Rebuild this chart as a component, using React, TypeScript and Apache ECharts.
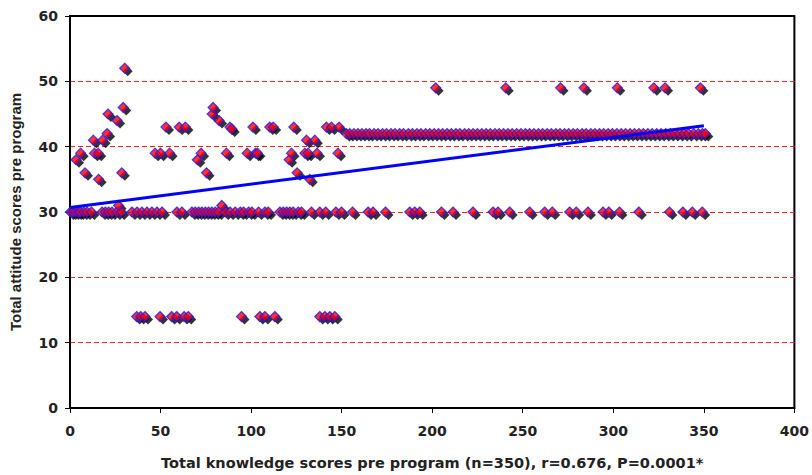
import React, { useEffect, useRef } from "react";
import * as echarts from "echarts";

// Scores
const row30X = [
  0.2, 1.5, 3, 4.5, 5.7, 7.6, 9.4, 11.8, 17.7, 19.5, 21.3, 23.2, 25.9, 28.3, 34.2, 37, 39.7, 42.5,
  45.2, 48, 50.8, 59, 61.8, 67.3, 69.1, 71, 72.8, 74.7, 76.5, 78.3, 80.2, 82, 85.7, 88.4, 91.2, 94,
  95.8, 98.6, 100.4, 104.1, 107.6, 109.4, 115.9, 117.7, 119.6, 121.4, 123.2, 126, 127.8, 133.3,
  137.9, 141.2, 146.8, 149.9, 156, 164.6, 167.3, 174.2, 187.6, 190.3, 193.1, 205.1, 211.5, 222.5,
  233.6, 236.3, 242.8, 253.8, 262.1, 266.3, 275.9, 279.5, 286, 294.3, 297.5, 303.4, 314.1, 331,
  338.4, 343.6, 349.1,
];
const row42X = [
  152.6, 154.5, 156.8, 159, 161.2, 163.5, 165.4, 167.9, 170.1, 172.6, 174.8, 177.3, 179.5, 182,
  184.2, 186.9, 189.1, 191.6, 193.8, 196.4, 198.7, 201.1, 203.5, 205.8, 208.3, 210.6, 213.1, 215.3,
  217.9, 220.2, 222.6, 225, 227.4, 229.8, 232.1, 234.7, 237, 239.4, 241.9, 244.2, 246.7, 249,
  251.5, 253.8, 256.2, 258.7, 261, 263.5, 265.8, 268.3, 270.6, 273.1, 275.4, 277.9, 280.2, 282.8,
  285, 287.6, 289.9, 292.4, 294.7, 297.2, 299.5, 302, 304.4, 306.8, 309.3, 311.7, 314.2, 316.6,
  319.1, 321.5, 324, 326.4, 329, 331.5, 334, 336.6, 339.1, 341.5, 344.4, 347, 349.2, 350.8,
];
const row49X = [201.9, 240.6, 270.9, 283.8, 302.2, 322.4, 328.6, 348.1];
const row14X = [
  36.8, 39, 41.4, 49.7, 56.1, 58.9, 63, 65.3, 94.7, 104.8, 107.6, 113.1, 137.9, 140.7, 143.4, 146.2,
];
const otherPoints: [number, number][] = [
  [3.3, 38], [5.9, 39], [8.3, 36], [12.9, 41], [13.5, 39], [15.6, 39], [15.8, 35], [18, 41],
  [20.5, 42], [21, 45], [26, 44], [29.4, 46], [30.2, 52], [28.6, 36], [26.8, 31],
  [47, 39], [50, 39], [55, 39], [53, 43], [60.3, 43], [63.7, 43], [70.3, 38], [72.4, 39],
  [75.4, 36], [78.5, 45], [79, 46], [82.3, 44], [83.8, 31], [86.4, 39], [88.3, 43], [89.3, 42.7],
  [97.8, 39], [101, 43], [102.5, 39], [103.5, 39], [110.3, 43], [112.2, 43], [121, 38],
  [122.3, 39], [123.6, 43], [125.4, 36], [129.7, 39], [130.6, 41], [131.5, 39], [132.4, 35],
  [135.2, 41], [136.4, 39], [141.6, 43], [144.4, 43], [148, 39], [148.6, 43],
];
const trendX = [0, 350];
const trendY = [30.7, 43.2];

const xTitle = "Total knowledge scores pre program (n=350), r=0.676, P=0.0001*";
const yTitle = "Total attitude scores pre program";

export default function App() {
  const ref = useRef<HTMLDivElement>(null);
  useEffect(() => {
    if (!ref.current) return;
    document.body.style.margin = "0";
    const chart = echarts.init(ref.current, null, { renderer: "svg" });
    const points: [number, number][] = [
      ...row30X.map((x) => [x, 30] as [number, number]),
      ...row42X.map((x) => [x, 42] as [number, number]),
      ...row49X.map((x) => [x, 49] as [number, number]),
      ...row14X.map((x) => [x, 14] as [number, number]),
      ...otherPoints,
    ];
    const labelStyle = {
      color: "#222",
      fontWeight: "bold" as const,
      fontFamily: "DejaVu Sans",
      fontSize: 14,
    };
    chart.setOption({
      animation: false,
      backgroundColor: "#fff",
      grid: {
        left: 70,
        right: 17,
        top: 16,
        bottom: 58,
        show: true,
        borderColor: "#000",
        borderWidth: 2,
        backgroundColor: "transparent",
      },
      xAxis: {
        type: "value",
        min: 0,
        max: 400,
        interval: 50,
        name: xTitle,
        nameLocation: "middle",
        nameGap: 47,
        nameTextStyle: { ...labelStyle, fontSize: 14.5 },
        axisLine: { show: true, lineStyle: { color: "#000", width: 2 } },
        axisTick: { show: true, length: 5, lineStyle: { color: "#000", width: 1 } },
        axisLabel: { ...labelStyle, margin: 16 },
        splitLine: { show: false },
      },
      yAxis: {
        type: "value",
        min: 0,
        max: 60,
        interval: 10,
        name: yTitle,
        nameLocation: "middle",
        nameGap: 47,
        nameTextStyle: { ...labelStyle, fontFamily: "Liberation Sans", fontSize: 15 },
        axisLine: { show: true, lineStyle: { color: "#000", width: 2 } },
        axisTick: { show: true, length: 5, lineStyle: { color: "#000", width: 1 } },
        axisLabel: { ...labelStyle, margin: 12 },
        splitLine: {
          show: true,
          showMinLine: false,
          showMaxLine: false,
          lineStyle: { color: "#ff2020", type: [5, 3], width: 1 },
        },
      },
      series: [
        {
          type: "scatter",
          data: points,
          symbol: "diamond",
          symbolSize: 10,
          symbolOffset: [3, 3],
          itemStyle: { color: "#000" },
          z: 2,
          silent: true,
        },
        {
          type: "scatter",
          data: points,
          symbol: "diamond",
          symbolSize: 10,
          itemStyle: { color: "#ff0000", borderColor: "#1a1aff", borderWidth: 1.2 },
          z: 3,
        },
        {
          type: "line",
          data: trendX.map((x, i) => [x, trendY[i]]),
          symbol: "none",
          lineStyle: { color: "#0000ff", width: 3 },
          z: 4,
        },
      ],
    });
    return () => chart.dispose();
  }, []);
  return <div ref={ref} style={{ width: 812, height: 475 }} />;
}
